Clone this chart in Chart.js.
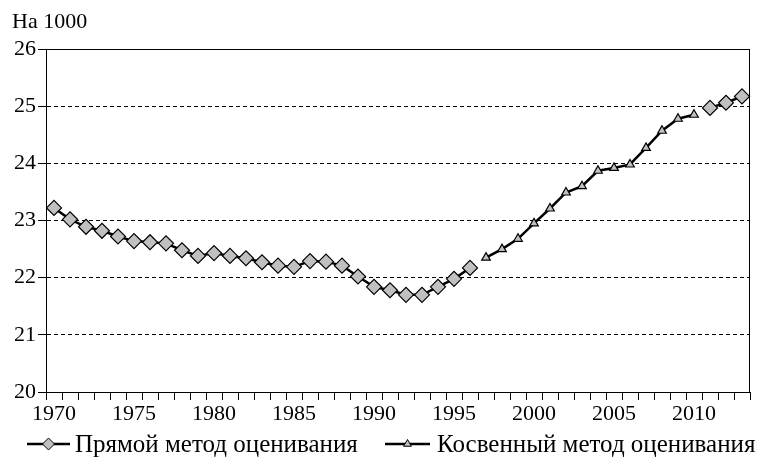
<!DOCTYPE html>
<html><head><meta charset="utf-8">
<script src="https://cdn.jsdelivr.net/npm/chart.js@4/dist/chart.umd.min.js"></script>
<style>
html,body{margin:0;padding:0;background:#fff}
#wrap{width:765px;height:464px;position:relative;font-family:'Liberation Serif','Times New Roman',serif;color:#000}
#unit{position:absolute;left:12px;top:8px;font-size:22px;line-height:26px;white-space:nowrap}
.leg{position:absolute;top:430px;font-size:25px;line-height:28px;white-space:nowrap}
canvas{position:absolute;left:0;top:0}
</style>
</head><body><div id="wrap">
<canvas id="c" width="765" height="464"></canvas>
<div id="unit"></div>
<div class="leg" id="leg0" style="left:75px"></div>
<div class="leg" id="leg1" style="left:437px"></div>
</div>
<script>
const years = [];
for (let y = 1970; y <= 2013; y++) years.push(String(y));
const directValues = [23.22, 23.02, 22.89, 22.82, 22.72, 22.64, 22.62, 22.60, 22.48, 22.38,
  22.43, 22.38, 22.34, 22.27, 22.21, 22.19, 22.29, 22.28, 22.21, 22.02,
  21.84, 21.78, 21.70, 21.70, 21.84, 21.98, 22.17,
  null, null, null, null, null, null, null, null, null, null, null, null, null, null,
  24.97, 25.06, 25.17];
const indirectValues = [null, null, null, null, null, null, null, null, null, null,
  null, null, null, null, null, null, null, null, null, null,
  null, null, null, null, null, null, null,
  22.35, 22.50, 22.68, 22.95, 23.21, 23.49, 23.60, 23.87, 23.92, 23.98, 24.27, 24.57, 24.78, 24.85,
  null, null, null];
const yMin = 20, yMax = 26, yStep = 1;
const unitLabel = 'На 1000';
const seriesNames = ['Прямой метод оценивания', 'Косвенный метод оценивания'];

document.getElementById('unit').textContent = unitLabel;
document.getElementById('leg0').textContent = seriesNames[0];
document.getElementById('leg1').textContent = seriesNames[1];
void document.getElementById('wrap').offsetWidth;

const FONT = "'Liberation Serif', 'Times New Roman', serif";
const markerFill = '#c0c0c0';

const extras = {
  id: 'extras',
  afterDraw(chart) {
    const ctx = chart.ctx, a = chart.chartArea;
    ctx.save();
    ctx.strokeStyle = '#000'; ctx.lineWidth = 1; ctx.setLineDash([]);
    ctx.strokeRect(Math.round(a.left) + 0.5, Math.round(a.top) + 0.5, Math.round(a.right - a.left) - 1, Math.round(a.bottom - a.top));
    const ly = 444;
    const items = [
      {x0: 27, x1: 70, style: 'rectRot', r: 6},
      {x0: 385, x1: 430, style: 'triangle', r: 4.5}
    ];
    items.forEach((it) => {
      ctx.strokeStyle = '#000'; ctx.lineWidth = 2.5;
      ctx.beginPath(); ctx.moveTo(it.x0, ly); ctx.lineTo(it.x1, ly); ctx.stroke();
      ctx.fillStyle = markerFill; ctx.lineWidth = 1;
      Chart.helpers.drawPoint(ctx, {pointStyle: it.style, radius: it.r, rotation: 0, borderWidth: 1}, (it.x0 + it.x1) / 2, ly);
    });
    ctx.restore();
  }
};

new Chart(document.getElementById('c'), {
  type: 'line',
  data: {
    labels: years,
    datasets: [
      {label: seriesNames[0], data: directValues, borderColor: '#000', borderWidth: 2.5,
       pointStyle: 'rectRot', pointRadius: 7.5, pointBackgroundColor: markerFill, pointBorderColor: '#000', pointBorderWidth: 1.2,
       spanGaps: false, tension: 0},
      {label: seriesNames[1], data: indirectValues, borderColor: '#000', borderWidth: 2.5,
       pointStyle: 'triangle', pointRadius: 5, pointBackgroundColor: markerFill, pointBorderColor: '#000', pointBorderWidth: 1.2,
       spanGaps: false, tension: 0}
    ]
  },
  options: {
    responsive: false, animation: false, devicePixelRatio: 1,
    font: {family: FONT},
    layout: {padding: {top: 49, right: 15, left: 0, bottom: 0}},
    plugins: {legend: {display: false}, tooltip: {enabled: false}},
    scales: {
      x: {
        type: 'category', offset: true,
        grid: {offset: true, drawOnChartArea: false, drawTicks: true, tickLength: 8, color: '#000', lineWidth: 1},
        border: {display: true, color: '#000', width: 1},
        ticks: {autoSkip: false, maxRotation: 0, minRotation: 0, padding: 1, color: '#000', font: {family: FONT, size: 22},
          callback(v, i) { const y = Number(years[i]); return y % 5 === 0 ? years[i] : ''; }},
        afterFit(s) { s.height = 72; }
      },
      y: {
        min: yMin, max: yMax,
        ticks: {stepSize: yStep, padding: 2, color: '#000', font: {family: FONT, size: 22}},
        grid: {color: '#000', lineWidth: 1, drawTicks: true, tickLength: 8},
        border: {display: true, color: '#000', width: 1, dash: [4, 3]},
        afterFit(s) { s.width = 46; }
      }
    }
  },
  plugins: [extras]
});
</script></body></html>
